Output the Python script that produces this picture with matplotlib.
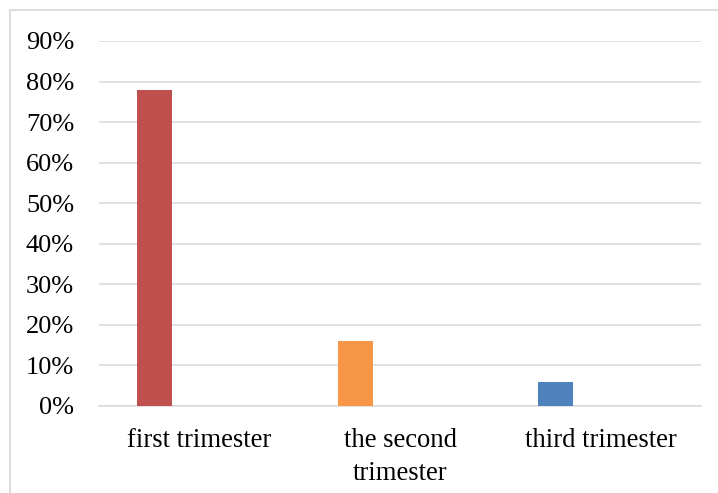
import matplotlib.pyplot as plt
from matplotlib.patches import Rectangle
from matplotlib.ticker import FuncFormatter, MultipleLocator
import numpy as np

categories = ["first trimester", "the second\ntrimester", "third trimester"]
shares = [0.78, 0.16, 0.06]
colors = ["#C0504D", "#F79646", "#4F81BD"]

GRID = "#D9D9D9"
plt.rcParams["font.family"] = ["Liberation Serif", "DejaVu Serif"]

fig = plt.figure(figsize=(7.18, 4.93), dpi=100)
ax = fig.add_axes([99 / 718, 1 - 406 / 493, 602 / 718, 365 / 493])

x = np.arange(len(categories))
ax.bar(x - 0.224, shares, width=0.174, color=colors, zorder=3)

ax.set_xlim(-0.5, len(categories) - 0.5)
ax.set_ylim(0, 0.9)
ax.yaxis.set_major_locator(MultipleLocator(0.1))
ax.yaxis.set_major_formatter(FuncFormatter(lambda v, _: f"{v * 100:.0f}%"))
ax.set_xticks(x)
ax.set_xticklabels(categories, linespacing=1.4)

ax.grid(axis="y", color=GRID, linewidth=1.1, zorder=0)
for side in ("top", "right", "left"):
    ax.spines[side].set_visible(False)
ax.spines["bottom"].set_color(GRID)
ax.spines["bottom"].set_linewidth(1.1)
ax.tick_params(axis="y", length=0, pad=18, labelsize=19, colors="black")
ax.tick_params(axis="x", length=0, pad=16, labelsize=19.2, colors="black")

# chart frame, clipped at the right and bottom edges
fig.patches.append(
    Rectangle((10 / 718, -0.1), 1.2, 1.1 - 10 / 493, transform=fig.transFigure,
              fill=False, edgecolor=GRID, linewidth=1.3)
)

fig.savefig("out.png", dpi=100)
